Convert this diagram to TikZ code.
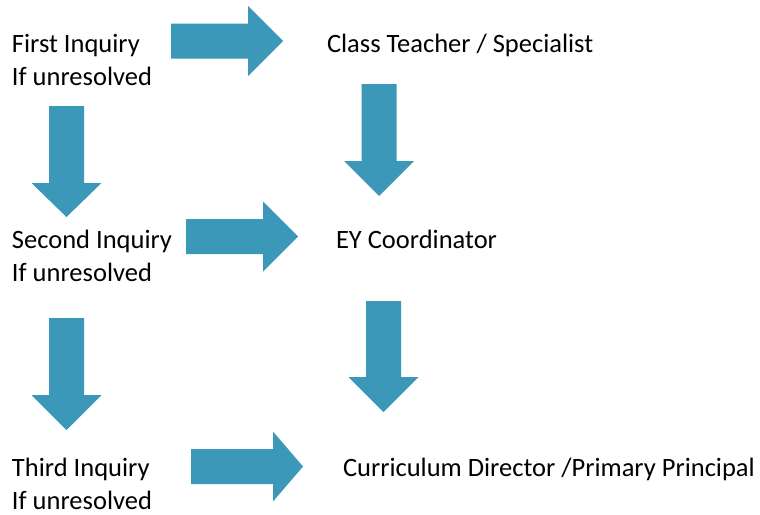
\documentclass[tikz,border=0pt]{standalone}
\usepackage{fontspec}
\setmainfont{Carlito}
\usetikzlibrary{calc}
\definecolor{arrowblue}{HTML}{3B98B8}
\tikzset{
  lbl/.style={anchor=base west, inner sep=0pt, outer sep=0pt, font=\fontsize{26.5}{33}\selectfont, text=black},
  blockfill/.style={fill=arrowblue, draw=none}
}
% horizontal block arrow: #1 start coordinate (shaft mid), #2 tip coordinate, #3 head length
\newcommand{\hblock}[3]{%
  \fill[blockfill] let \p1=(#1), \p2=(#2) in
    (\x1,\y2+17.5pt) -- (\x2-#3,\y2+17.5pt) -- (\x2-#3,\y2+35pt) -- (\x2,\y2)
    -- (\x2-#3,\y2-35pt) -- (\x2-#3,\y2-17.5pt) -- (\x1,\y2-17.5pt) -- cycle;}
% vertical (downward) block arrow: #1 start coordinate (top mid), #2 tip coordinate, #3 head length
\newcommand{\vblock}[3]{%
  \fill[blockfill] let \p1=(#1), \p2=(#2) in
    (\x2-17.5pt,\y1) -- (\x2-17.5pt,\y2+#3) -- (\x2-35pt,\y2+#3) -- (\x2,\y2)
    -- (\x2+35pt,\y2+#3) -- (\x2+17.5pt,\y2+#3) -- (\x2+17.5pt,\y1) -- cycle;}
\begin{document}
\begin{tikzpicture}[x=1pt,y=-1pt]
\useasboundingbox (0,0) rectangle (760,514);
% text nodes
\node[lbl] (first) at (12,52) {First Inquiry};
\node[lbl] (firstu) at (12,85) {If unresolved};
\node[lbl] (teacher) at (327,52) {Class Teacher / Specialist};
\node[lbl] (second) at (12,248) {Second Inquiry};
\node[lbl] (secondu) at (12,281) {If unresolved};
\node[lbl] (ey) at (336,248) {EY Coordinator};
\node[lbl] (third) at (12,476) {Third Inquiry};
\node[lbl] (thirdu) at (12,509) {If unresolved};
\node[lbl] (director) at (343,476) {Curriculum Director /Primary Principal};
% arrow end points
\coordinate (h1s) at (171,41);  \coordinate (h1e) at (283,41);
\coordinate (h2s) at (186,236.5); \coordinate (h2e) at (298,236.5);
\coordinate (h3s) at (191,466.5); \coordinate (h3e) at (303,466.5);
\coordinate (v1s) at (66.5,106); \coordinate (v1e) at (66.5,217);
\coordinate (v2s) at (66.5,318); \coordinate (v2e) at (66.5,430);
\coordinate (v3s) at (379,84);  \coordinate (v3e) at (379,196);
\coordinate (v4s) at (383.5,301); \coordinate (v4e) at (383.5,412);
% arrows
\hblock{h1s}{h1e}{35pt}
\hblock{h2s}{h2e}{35pt}
\hblock{h3s}{h3e}{30pt}
\vblock{v1s}{v1e}{34pt}
\vblock{v2s}{v2e}{35pt}
\vblock{v3s}{v3e}{35pt}
\vblock{v4s}{v4e}{35pt}
\end{tikzpicture}
\end{document}
